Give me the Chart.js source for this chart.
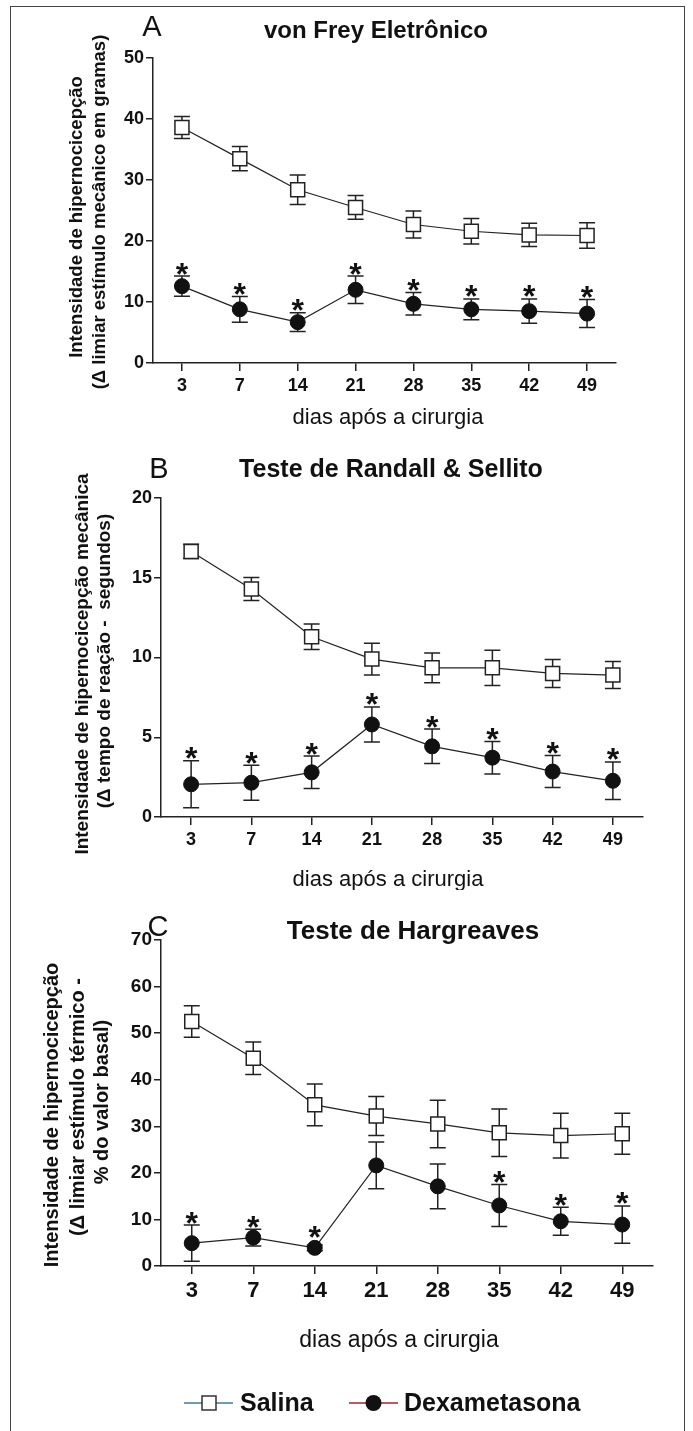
<!DOCTYPE html>
<html>
<head>
<meta charset="utf-8">
<script src="https://cdn.jsdelivr.net/npm/chart.js@4.4.1/dist/chart.umd.min.js"></script>
<style>
  body { margin: 0; background: #fff; width: 693px; height: 1431px; overflow: hidden; position: relative; }
  canvas { position: absolute; left: 0; }
  #frame { position: absolute; left: 10px; top: 6px; width: 673px; height: 1440px; border: 1px solid #444; border-bottom: none; }
</style>
</head>
<body>
<div id="frame"></div>
<canvas id="chartA" width="693" height="440" style="top:0px"></canvas>
<canvas id="chartB" width="693" height="450" style="top:440px"></canvas>
<canvas id="chartC" width="693" height="541" style="top:890px"></canvas>
<script>
// dias após a cirurgia
const dias = ['3', '7', '14', '21', '28', '35', '42', '49'];

// A - von Frey eletrônico (gramas), média e EPM
const salinaA = [38.6, 33.5, 28.4, 25.5, 22.7, 21.6, 21.0, 20.9];
const salinaAErr = [1.8, 2.0, 2.4, 1.95, 2.2, 2.1, 1.9, 2.1];
const dexaA = [12.6, 8.8, 6.7, 12.0, 9.7, 8.8, 8.5, 8.1];
const dexaAErr = [1.65, 2.1, 1.55, 2.25, 1.85, 1.7, 2.0, 2.3];
const starsA = [1, 1, 1, 1, 1, 1, 1, 1];

// B - Randall & Sellito (segundos)
const salinaB = [16.65, 14.3, 11.3, 9.9, 9.35, 9.35, 9.0, 8.9];
const salinaBErr = [0.45, 0.72, 0.8, 1.0, 0.93, 1.1, 0.88, 0.85];
const dexaB = [2.05, 2.15, 2.8, 5.8, 4.43, 3.72, 2.85, 2.27];
const dexaBErr = [1.47, 1.1, 1.02, 1.1, 1.08, 1.02, 1.0, 1.18];
const starsB = [1, 1, 1, 1, 1, 1, 1, 1];

// C - Hargreaves (% do valor basal)
const salinaC = [52.5, 44.6, 34.6, 32.2, 30.5, 28.6, 28.0, 28.4];
const salinaCErr = [3.4, 3.5, 4.5, 4.2, 5.1, 5.1, 4.8, 4.4];
const dexaC = [4.9, 6.1, 3.9, 21.6, 17.1, 13.0, 9.6, 8.9];
const dexaCErr = [3.9, 1.8, 0.6, 5.0, 4.8, 4.5, 3.0, 4.0];
const starsC = [1, 1, 1, 0, 0, 1, 1, 1];

const yTicksA = { max: 50, step: 10 };
const yTicksB = { max: 20, step: 5 };
const yTicksC = { max: 70, step: 10 };

const FONT = '"Liberation Sans", Arial, sans-serif';

// error bars under the markers, asterisks above Dexametasona
const errorBars = {
    id: 'errorBars',
    beforeDatasetsDraw(chart) {
        const ctx = chart.ctx;
        const y = chart.scales.y;
        ctx.save();
        ctx.strokeStyle = '#222';
        ctx.lineWidth = 1.5;
        chart.data.datasets.forEach((ds, i) => {
            chart.getDatasetMeta(i).data.forEach((pt, j) => {
                const top = y.getPixelForValue(ds.data[j] + ds.errors[j]);
                const bot = y.getPixelForValue(ds.data[j] - ds.errors[j]);
                ctx.beginPath();
                ctx.moveTo(pt.x, top); ctx.lineTo(pt.x, bot);
                ctx.moveTo(pt.x - 8, top); ctx.lineTo(pt.x + 8, top);
                ctx.moveTo(pt.x - 8, bot); ctx.lineTo(pt.x + 8, bot);
                ctx.stroke();
            });
        });
        ctx.restore();
    },
    afterDatasetsDraw(chart) {
        const ctx = chart.ctx;
        const y = chart.scales.y;
        ctx.save();
        ctx.fillStyle = '#111';
        ctx.font = 'bold 32px ' + FONT;
        ctx.textAlign = 'center';
        ctx.textBaseline = 'alphabetic';
        const desc = ctx.measureText('*').actualBoundingBoxDescent;
        chart.data.datasets.forEach((ds, i) => {
            if (!ds.stars) return;
            chart.getDatasetMeta(i).data.forEach((pt, j) => {
                if (!ds.stars[j]) return;
                // sit on the upper cap, or on the marker when the bar is hidden
                const top = Math.min(y.getPixelForValue(ds.data[j] + ds.errors[j]), pt.y - ds.pointRadius - 1);
                ctx.fillText('*', pt.x, top - 1.5 - desc);
            });
        });
        ctx.restore();
    }
};

// letter, title and axis titles of each panel
const panelText = {
    id: 'panelText',
    afterDraw(chart, args, o) {
        const ctx = chart.ctx;
        const off = o.offset;
        ctx.save();
        ctx.fillStyle = '#111';
        ctx.textAlign = 'center';
        ctx.textBaseline = 'middle';
        ctx.font = '29px ' + FONT;
        ctx.fillText(o.letter[0], o.letter[1], o.letter[2] - off);
        ctx.font = 'bold ' + o.titleSize + 'px ' + FONT;
        ctx.fillText(o.title[0], o.title[1], o.title[2] - off);
        ctx.font = o.xTitleSize + 'px ' + FONT;
        ctx.fillText('dias após a cirurgia', o.xTitle[0], o.xTitle[1] - off);
        ctx.font = 'bold ' + o.yTitleSize + 'px ' + FONT;
        o.yTitle.forEach(l => {
            ctx.save();
            ctx.translate(l[1], l[2] - off);
            ctx.rotate(-Math.PI / 2);
            ctx.fillText(l[0], 0, 0);
            ctx.restore();
        });
        if (o.legend) {
            const ly = o.legend - off;
            ctx.lineWidth = 1.5;
            ctx.strokeStyle = '#3d7f8f';
            ctx.beginPath(); ctx.moveTo(184, ly); ctx.lineTo(233, ly); ctx.stroke();
            ctx.fillStyle = '#fff';
            ctx.strokeStyle = '#333';
            ctx.fillRect(202, ly - 7, 14, 14);
            ctx.strokeRect(202, ly - 7, 14, 14);
            ctx.strokeStyle = '#a3242a';
            ctx.beginPath(); ctx.moveTo(349, ly); ctx.lineTo(398, ly); ctx.stroke();
            ctx.fillStyle = '#111';
            ctx.beginPath(); ctx.arc(373.5, ly, 8, 0, Math.PI * 2); ctx.fill();
            ctx.font = 'bold 25px ' + FONT;
            ctx.textAlign = 'left';
            ctx.fillText('Salina', 240, ly + 1);
            ctx.fillText('Dexametasona', 404, ly + 1);
        }
        ctx.restore();
    }
};

function makeChart(id, area, salina, salinaErr, dexa, dexaErr, stars, yt, xFont, yFont, text) {
    const canvas = document.getElementById(id);
    const off = text.offset;
    const xh = 40;
    return new Chart(canvas, {
        type: 'line',
        data: {
            labels: dias,
            datasets: [
                {
                    label: 'Dexametasona',
                    data: dexa,
                    errors: dexaErr,
                    stars: stars,
                    borderColor: '#222',
                    borderWidth: 1.2,
                    pointStyle: 'circle',
                    pointRadius: 7.5,
                    pointBackgroundColor: '#111',
                    pointBorderColor: '#111',
                    pointBorderWidth: 1,
                    tension: 0
                },
                {
                    label: 'Salina',
                    data: salina,
                    errors: salinaErr,
                    borderColor: '#222',
                    borderWidth: 1.2,
                    pointStyle: 'rect',
                    pointRadius: 9.9,
                    pointBackgroundColor: '#fff',
                    pointBorderColor: '#222',
                    pointBorderWidth: 1.5,
                    tension: 0
                }
            ]
        },
        options: {
            responsive: false,
            animation: false,
            clip: false,
            layout: {
                padding: {
                    left: 0,
                    top: area.top - off,
                    right: 693 - area.right,
                    bottom: canvas.height - (area.bottom - off) - xh
                }
            },
            scales: {
                x: {
                    type: 'category',
                    offset: true,
                    afterFit: s => { s.height = xh; },
                    border: { display: true, color: '#222', width: 1.5 },
                    grid: { display: true, offset: false, drawOnChartArea: false, tickLength: 8, color: '#222', lineWidth: 1.5 },
                    ticks: { color: '#111', padding: 4, font: { family: FONT, size: xFont, weight: 'bold' } }
                },
                y: {
                    min: 0,
                    max: yt.max,
                    afterFit: s => { s.width = area.left; },
                    border: { display: true, color: '#222', width: 1.5 },
                    grid: { display: true, drawOnChartArea: false, tickLength: 7, color: '#222', lineWidth: 1.5 },
                    ticks: { stepSize: yt.step, color: '#111', padding: 2, font: { family: FONT, size: yFont, weight: 'bold' } }
                }
            },
            plugins: {
                legend: { display: false },
                tooltip: { enabled: false },
                panelText: text
            }
        },
        plugins: [errorBars, panelText]
    });
}

makeChart('chartA', { left: 153, top: 58, right: 616, bottom: 363 },
    salinaA, salinaAErr, dexaA, dexaAErr, starsA, yTicksA, 18, 18, {
        offset: 0,
        letter: ['A', 152, 28],
        title: ['von Frey Eletrônico', 376, 31],
        titleSize: 24,
        xTitle: [388, 418],
        xTitleSize: 22,
        yTitle: [['Intensidade de hipernocicepção', 77, 217],
                 ['(Δ limiar estímulo mecânico em gramas)', 100, 212]],
        yTitleSize: 18.5
    });

makeChart('chartB', { left: 161, top: 498, right: 643, bottom: 817 },
    salinaB, salinaBErr, dexaB, dexaBErr, starsB, yTicksB, 18, 18, {
        offset: 440,
        letter: ['B', 159, 470],
        title: ['Teste de Randall & Sellito', 391, 470],
        titleSize: 25,
        xTitle: [388, 880],
        xTitleSize: 22,
        yTitle: [['Intensidade de hipernocicepção mecânica', 83, 664],
                 ['(Δ tempo de reação -  segundos)', 105, 661]],
        yTitleSize: 19
    });

makeChart('chartC', { left: 161, top: 940, right: 653, bottom: 1266 },
    salinaC, salinaCErr, dexaC, dexaCErr, starsC, yTicksC, 22, 19, {
        offset: 890,
        letter: ['C', 158, 928],
        title: ['Teste de Hargreaves', 413, 932],
        titleSize: 26,
        xTitle: [399, 1341],
        xTitleSize: 23,
        yTitle: [['Intensidade de hipernocicepção', 52, 1115],
                 ['(Δ limiar estímulo térmico -', 78, 1107],
                 ['% do valor basal)', 102, 1102]],
        yTitleSize: 20,
        legend: 1403
    });
</script>
</body>
</html>
